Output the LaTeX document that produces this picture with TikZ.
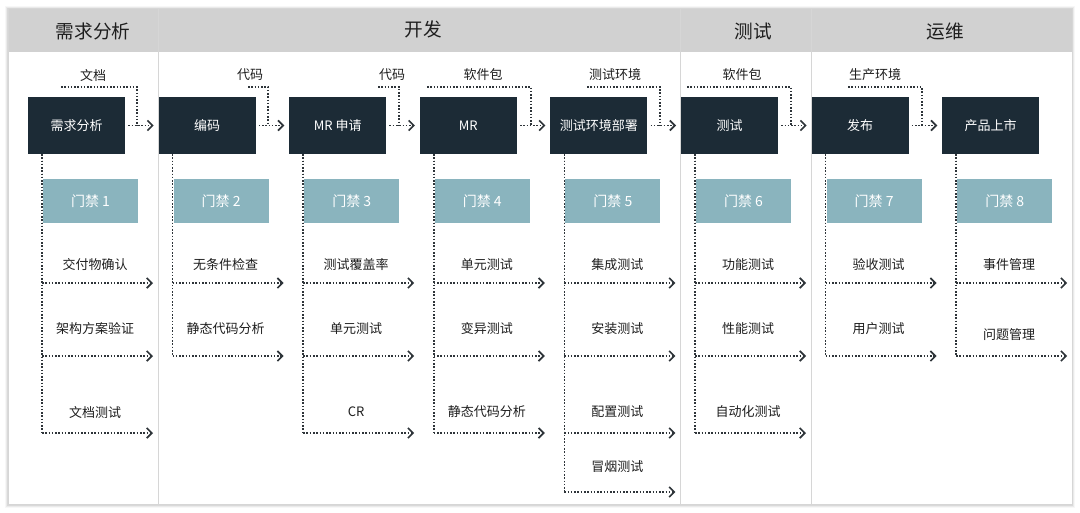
\documentclass[tikz,border=0pt]{standalone}
\usepackage{fontspec}
\setmainfont{Noto Sans CJK SC}
\usetikzlibrary{arrows.meta}
\definecolor{navy}{HTML}{1C2B36}
\definecolor{gate}{HTML}{8AB4BE}
\definecolor{headgray}{HTML}{D1D1D1}
\definecolor{divgray}{HTML}{D6D6D6}
\definecolor{dotc}{HTML}{2E3439}
\definecolor{txt}{HTML}{1E1E1E}
\tikzset{
  darkbox/.style={fill=navy, text=white, minimum width=72.75pt, minimum height=42.75pt, inner sep=0pt, font=\fontsize{9.75pt}{11pt}\selectfont},
  gatebox/.style={fill=gate, text=white, minimum width=71.25pt, minimum height=33pt, inner sep=0pt, font=\fontsize{10.5pt}{12pt}\selectfont},
  itemlabel/.style={text=txt, inner sep=0pt, font=\fontsize{9.75pt}{11pt}\selectfont},
  headlabel/.style={text=txt, inner sep=0pt, font=\fontsize{14pt}{16pt}\selectfont},
  dotline/.style={draw=dotc, line width=1.15pt, dash pattern=on 1.15pt off 1.3pt},
  dotarrow/.style={dotline, -{Straight Barb[length=3.8pt,width=7.6pt,line width=1.25pt]}},
}
\begin{document}
\begin{tikzpicture}[x=0.75pt,y=-0.75pt]
\useasboundingbox (0,0) rectangle (1080,512);
% shadow
\foreach \o/\op in {3/0.03,2/0.05,1/0.07}{
  \fill[black,opacity=\op] (8-\o,8-\o+1) rectangle (1072+\o,504+\o+1);
}
\fill[white] (8,8) rectangle (1072,504);
% header band
\fill[headgray] (8,8) rectangle (1072,52);
\draw[divgray, line width=0.6pt] (8,8) rectangle (1072,504);
\foreach \dx in {158,680,811}{
  \draw[divgray, line width=0.75pt] (\dx,8) -- (\dx,504);
}
\node[headlabel] (h1) at (93,31) {需求分析};
\node[headlabel] (h2) at (423,29) {开发};
\node[headlabel] (h3) at (753,31) {测试};
\node[headlabel] (h4) at (945,31) {运维};
% main boxes
\foreach \i/\t in {0/需求分析,1/编码,2/MR 申请,3/MR,4/测试环境部署,5/测试,6/发布,7/产品上市}{
  \pgfmathsetmacro\L{28+130.6*\i}
  \node[darkbox] (b\i) at (\L+48.5,125.5) {\t};
  \coordinate (v\i) at (\L+14,154);
}
% items
\foreach \i/\items in {0/{交付物确认,架构方案验证,文档测试},1/{无条件检查,静态代码分析},2/{测试覆盖率,单元测试,CR},3/{单元测试,变异测试,静态代码分析},4/{集成测试,安装测试,配置测试,冒烟测试},5/{功能测试,性能测试,自动化测试},6/{验收测试,用户测试},7/{事件管理,问题管理}}{
  \pgfmathsetmacro\L{28+130.6*\i}
  \foreach \t [count=\r] in \items {
    \pgfmathsetmacro\ry{{283,356,433,492}[\r-1]}
    \pgfmathsetmacro\ly{{265,329,412,467}[\r-1]+((\i==7)&&(\r==2))*6}
    \coordinate (s\i-\r) at (\L+14,\ry);
    \coordinate (t\i-\r) at (\L+125,\ry);
    \draw[dotline] (v\i) -- (s\i-\r);
    \draw[dotarrow] (s\i-\r) -- (t\i-\r);
    \node[itemlabel] (l\i-\r) at (\L+67,\ly) {\t};
  }
}
% gates
\foreach \i in {0,...,7}{
  \pgfmathsetmacro\L{28+130.6*\i}
  \pgfmathtruncatemacro\n{\i+1}
  \node[gatebox] (g\i) at (\L+62.5,201) {门禁 \n};
}
% top connectors
\foreach \i/\j/\t/\lx/\sx/\jx in {0/1/文档/93/61/137,1/2/代码/250/248/268,2/3/代码/392/378/399,3/4/软件包/483/427/531,4/5/测试环境/615/587/660,5/6/软件包/742/687/791,6/7/生产环境/875/848/922}{
  \coordinate (ts\i) at (\sx,87);
  \coordinate (tj\i) at (\jx,125.5);
  \node[itemlabel] (tl\i) at (\lx,75) {\t};
  \draw[dotarrow, shorten <=2.25pt, shorten >=3.5pt] (b\i.east) -- (b\j.west);
  \draw[dotline] (ts\i) -| (tj\i);
}
\end{tikzpicture}
\end{document}
